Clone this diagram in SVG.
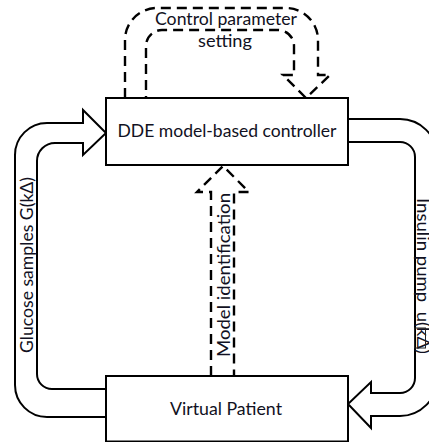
<svg xmlns="http://www.w3.org/2000/svg" width="429" height="442" viewBox="0 0 429 442">
  <style>
    .box { fill: #fff; stroke: #000; stroke-width: 2; }
    .flow { fill: #fff; stroke: #000; stroke-width: 2; stroke-linejoin: miter; }
    .dash { fill: none; stroke: #000; stroke-width: 2.4; stroke-dasharray: 10 6; }
    .lbl { font-family: Lato, "Open Sans", "Liberation Sans", sans-serif; font-size: 16.5px; fill: #111122; text-anchor: middle; }
  </style>
  <rect width="429" height="442" fill="#fff"/>

  <!-- connectors: hollow block arrows for signals, dashed arrows for tuning paths -->
  <g id="connectors">
    <!-- glucose samples: patient -> controller -->
    <path class="flow" d="M106,389 H52 A15,15 0 0 1 37,374 V161 A18,18 0 0 1 55,143 H83 V155 L106,133 L83,110 V123 H47 A32,32 0 0 0 15,155 V385 A32,32 0 0 0 47,417 H106"/>
    <!-- insulin pump: controller -> patient -->
    <path class="flow" d="M348,119 H400 A37,37 0 0 1 437,156 V379 A37,37 0 0 1 400,416 H371 V428 L348,404 L371,382 V393 H400 A15,15 0 0 0 415,378 V157 A15,15 0 0 0 400,142 H348"/>
    <!-- control parameter setting loop -->
    <path class="dash" d="M125,98 V40 A32,32 0 0 1 157,8 H286 A32,32 0 0 1 318,40 V75 H330 L306,98 L283,75 H294 V46 A16,16 0 0 0 278,30 H162 A16,16 0 0 0 146,46 V98"/>
    <!-- model identification -->
    <path class="dash" d="M211,376 V192 H197 L223,166 L249,192 H234 V376"/>
  </g>

  <g id="controller">
    <rect class="box" x="106" y="98" width="242" height="67"/>
    <text class="lbl" x="227" y="137" textLength="219" lengthAdjust="spacingAndGlyphs">DDE model-based controller</text>
  </g>

  <g id="patient">
    <rect class="box" x="106" y="376" width="242" height="65.5"/>
    <text class="lbl" x="226" y="415" textLength="112" lengthAdjust="spacingAndGlyphs">Virtual Patient</text>
  </g>

  <g id="labels">
    <text class="lbl" x="226" y="25" textLength="142" lengthAdjust="spacingAndGlyphs">Control parameter</text>
    <text class="lbl" x="225" y="47" textLength="54" lengthAdjust="spacingAndGlyphs">setting</text>
    <text class="lbl" transform="translate(33,265) rotate(-90)" textLength="176" lengthAdjust="spacingAndGlyphs">Glucose samples G(kΔ)</text>
    <text class="lbl" transform="translate(230,275) rotate(-90)" textLength="164" lengthAdjust="spacingAndGlyphs">Model identification</text>
    <text class="lbl" transform="translate(416.5,276) rotate(90)" textLength="156" lengthAdjust="spacingAndGlyphs" xml:space="preserve">Insulin pump  u(kΔ)</text>
    <!-- thin frame round the sample index of the pump signal -->
    <rect x="414.5" y="328" width="11" height="20" fill="none" stroke="#222" stroke-width="1"/>
  </g>
</svg>
